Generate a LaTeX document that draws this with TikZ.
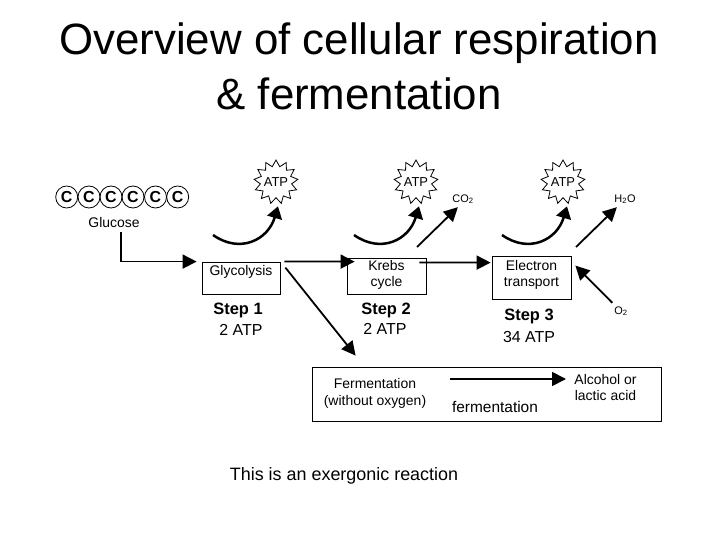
\documentclass[tikz,border=0pt]{standalone}
\usepackage{fontspec}
\setmainfont{Liberation Sans}
\usetikzlibrary{arrows.meta,shapes.geometric}
\tikzset{
  box/.style={draw, line width=0.8bp, inner sep=0pt, align=center, font=\fontsize{14}{17}\selectfont},
  burst/.style={draw, shape=star, star points=13, star point ratio=1.4, inner sep=-3bp, minimum size=44bp, line width=0.8bp, font=\fontsize{13}{14}\selectfont},
  carbon/.style={draw, circle, inner sep=0pt, minimum size=22bp, line width=0.8bp, font=\fontsize{16}{17}\selectfont\bfseries},
  heading/.style={font=\fontsize{44}{48}\selectfont},
  steplabel/.style={font=\fontsize{16.5}{19}\selectfont\bfseries},
  yield/.style={font=\fontsize{16}{18}\selectfont},
  small/.style={align=center, font=\fontsize{14}{17}\selectfont},
  gas/.style={font=\fontsize{11}{12}\selectfont},
  flow/.style={line width=1.8bp, -{Triangle[length=14bp,width=14bp]}},
  gain/.style={line width=2.5bp, -{Triangle[length=12bp,width=15bp]}}
}
\begin{document}
\begin{tikzpicture}[x=1bp, y=-1bp]
\useasboundingbox (0,0) rectangle (720,540);

\node[heading] (title1) at (359,43) {Overview of cellular respiration};
\node[heading] (title2) at (359,94) {\& fermentation};

% glucose chain
\foreach \i/\x in {1/66.7,2/89,3/111,4/133,5/155.5,6/177.7}
  \node[carbon] (c\i) at (\x,197) {C};
\node[small] (glucose) at (114,223) {Glucose};

% boxes
\node[box, minimum width=78bp, text height=14bp, text depth=18bp] (glycolysis) at (241,278) {Glycolysis};
\node[box, minimum width=79bp, text height=29bp, text depth=7bp] (krebs) at (386.5,276) {Krebs\\cycle};
\node[box, minimum width=79bp, text height=31bp, text depth=12bp] (electron) at (531.5,277.5) {Electron\\transport};
\node[box, minimum width=349bp, minimum height=54bp] (fermbox) at (486.5,394) {};

\node[small] (fermentation) at (375,393.5) {Fermentation\\(without oxygen)};
\node[small, font=\fontsize{15.5}{17}\selectfont] (fermword) at (495,407) {fermentation};
\node[small] (products) at (605.5,387.5) {Alcohol or\\lactic acid};

% steps
\node[steplabel] (step1) at (238,310) {Step 1};
\node[yield] (atp1) at (241,330) {2 ATP};
\node[steplabel] (step2) at (386,310) {Step 2};
\node[yield] (atp2) at (385,329) {2 ATP};
\node[steplabel] (step3) at (529,316) {Step 3};
\node[yield] (atp3) at (529,337) {34 ATP};

% bursts
\node[burst] (burst1) at (276,182) {ATP};
\node[burst] (burst2) at (416,182) {ATP};
\node[burst] (burst3) at (563,182) {ATP};

\node[gas] (co2) at (463,199) {CO\textsubscript{2}};
\node[gas] (h2o) at (625,199) {H\textsubscript{2}O};
\node[gas] (o2) at (621,311) {O\textsubscript{2}};

\node[font=\fontsize{18}{20}\selectfont] (note) at (344,476) {This is an exergonic reaction};

\coordinate (T1) at (213,235); % tails of curved arrows
\coordinate (T2) at (354,235);
\coordinate (T3) at (502,235);
\coordinate (F1) at (450,379);
\coordinate (F2) at (566,379);
\coordinate (C1) at (417,247);
\coordinate (H1) at (576,247);

\draw[gain] (T1) .. controls (240,254) and (268,240) .. ([shift={(2,8)}]burst1.south);
\draw[gain] (T2) .. controls (381,254) and (409,240) .. ([shift={(3,8)}]burst2.south);
\draw[gain] (T3) .. controls (529,254) and (557,240) .. ([shift={(4,8)}]burst3.south);

\draw[flow] ([xshift=7bp]glucose.south) |- ([xshift=-5bp]glycolysis.north west);
\draw[flow] ([xshift=4bp]glycolysis.north east) -- ([shift={(8,4)}]krebs.north west);
\draw[flow] ([shift={(-7,5)}]krebs.north east) -- ([shift={(-1,7)}]electron.north west);
\draw[flow] ([shift={(5,6)}]glycolysis.north east) -- ([shift={(44,-11)}]fermbox.north west);
\draw[flow] (F1) -- (F2);
\draw[flow] (C1) -- ([xshift=9bp]co2.south west);
\draw[flow] (H1) -- ([xshift=6bp]h2o.south west);
\draw[flow] ([xshift=1.5bp]o2.north west) -- ([shift={(4,10)}]electron.north east);
\end{tikzpicture}
\end{document}
